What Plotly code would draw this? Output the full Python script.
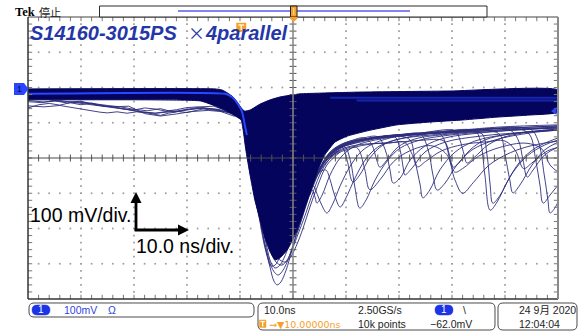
import plotly.graph_objects as go

# Screen scale: 10 ns/div over 10 divisions, 100 mV/div over 8 divisions (0 mV = centre line)
T_RANGE = [0, 100]
V_RANGE = [-400, 400]

# Envelope of the dense persistence region (all overlapping acquisitions)
mass_top_t = [0, 35.3, 36.6, 37.7, 38.7, 39.6, 40.4, 40.9, 41.9, 43.8, 45.7, 47.5, 51.3, 55.1, 62.6, 79.6, 100]
mass_top_v = [196, 196, 193, 184, 173, 156, 139, 133, 136, 153, 165, 173, 182, 184, 187, 190, 193]
mass_bot_t = [100, 94.7, 88.5, 82.1, 75.8, 69.6, 64.0, 60.2, 57.9, 56.0, 54.7, 53.4, 51.9, 50.4, 48.9,
              47.5, 46.6, 45.7, 44.7, 43.8, 42.8, 41.9, 41.1, 40.6, 40.2, 38.1, 35.3, 32.5, 23.0, 0]
mass_bot_v = [130, 122, 116, 108, 102, 94, 77, 62, 45, 9, -34, -91, -156, -218, -261,
              -284, -289, -267, -227, -176, -119, -48, 23, 79, 108, 128, 148, 162, 165, 165]

# Brightest (most frequent) waveform
bright_t = [0, 37.2, 38.5, 39.6, 40.4, 40.9, 41.3]
bright_v = [182, 182, 173, 153, 130, 94, 65]
tail_bright1_t = [57.0, 100]
tail_bright1_v = [171, 171]
tail_bright2_t = [62.0, 100]
tail_bright2_v = [163, 163]

# Single acquisitions with a lowered baseline before the trigger
pre1_t = [0, 2, 4, 6, 8, 10, 12, 14, 16, 18, 20, 22, 24, 26, 28, 30, 32, 34, 36, 38]
pre1_v = [142, 151, 155, 150, 157, 151, 156, 148, 145, 139, 136, 142, 139, 133, 137, 143, 145, 141, 137, 128]
pre2_t = [0, 3, 6, 9, 12, 13.6, 15, 16.8, 18.7, 20.5, 22.5, 24, 25, 26.5, 28, 30, 32.5, 35, 37.5]
pre2_v = [148, 145, 149, 141, 134, 130, 128, 131, 127, 131, 128, 124, 121, 127, 130, 136, 142, 138, 130]
pre3_t = [0, 2.5, 5, 7.5, 10, 12.5, 15, 17.5, 20, 22.5, 25, 27.5, 30, 32.5, 35, 37.5]
pre3_v = [160, 157, 162, 156, 159, 153, 149, 145, 138, 134, 140, 130, 137, 145, 147, 135]
pre4_t = [0, 3, 6, 9, 12, 15, 18, 21, 24, 27, 30, 33, 36, 38.5]
pre4_v = [163, 159, 163, 157, 151, 147, 139, 132, 127, 131, 138, 141, 138, 125]
pre5_t = [4, 7, 10, 13, 16, 19, 22, 25, 28, 31, 34, 37]
pre5_v = [165, 159, 161, 150, 145, 147, 126, 119, 125, 132, 135, 131]
pre6_t = [9, 12, 15, 18, 21, 24, 27, 30, 33, 36, 39]
pre6_v = [160, 154, 147, 140, 131, 127, 134, 129, 139, 134, 118]

# Larger-amplitude main pulses (outline below the dense region)
deep1_t = [40.2, 41.1, 42.3, 43.4, 44.5, 45.7, 46.4, 47.0, 47.7, 48.7, 49.8, 50.9, 52.3, 53.6, 55.1, 57.0, 59.8]
deep1_v = [130, 65, -34, -133, -233, -312, -349, -360, -352, -318, -261, -199, -133, -77, -28, 9, 34]
deep2_t = [40.6, 41.5, 42.6, 43.8, 44.9, 45.8, 46.6, 47.2, 47.9, 48.9, 50.0, 51.3, 52.8, 54.3, 56.0, 58.9]
deep2_v = [108, 23, -91, -182, -255, -304, -326, -332, -323, -295, -247, -190, -119, -57, -11, 23]
deep3_t = [41.9, 43.0, 44.2, 45.1, 45.8, 46.6, 47.4, 48.3, 49.4, 50.8, 52.3, 54.0, 55.8, 58.5]
deep3_v = [-6, -105, -190, -255, -295, -312, -306, -284, -241, -190, -128, -65, -14, 20]
deep4_t = [42.3, 43.4, 44.5, 45.7, 46.8, 47.9, 48.9, 49.8, 50.9, 52.3, 53.8, 55.5, 57.5]
deep4_v = [-28, -119, -199, -261, -295, -304, -289, -261, -218, -162, -96, -34, 9]
deep5_t = [41.5, 42.6, 43.6, 44.5, 45.3, 45.8, 46.6, 47.5, 48.7, 50.0, 51.5, 53.2, 55.1, 57.4]
deep5_v = [23, -77, -162, -241, -287, -306, -304, -281, -247, -199, -142, -82, -28, 9]
deep6_t = [42.8, 44.2, 45.3, 46.4, 47.5, 48.5, 49.4, 50.6, 51.9, 53.2, 54.7, 56.4, 58.9]
deep6_v = [-62, -162, -233, -272, -289, -295, -284, -250, -199, -139, -77, -20, 17]

# Acquisitions carrying one or two delayed secondary pulses
ap1_t = [51.3, 52.6, 53.8, 54.7, 55.5, 56.4, 57.5, 58.9, 60.8, 63.0, 65.5, 69.2, 74.0, 81.5, 89.1, 100]
ap1_v = [-182, -119, -79, -108, -136, -156, -130, -79, -23, 20, 43, 60, 71, 79, 88, 94]
ap2_t = [52.3, 53.6, 55.1, 56.2, 57.0, 57.9, 58.9, 60.0, 61.7, 63.6, 66.0, 69.2, 74.0, 81.5, 90.9, 100]
ap2_v = [-133, -77, -40, -34, -62, -108, -139, -113, -57, -6, 31, 51, 65, 77, 85, 91]
ap3_t = [53.2, 54.7, 56.4, 58.3, 59.8, 60.8, 61.7, 62.6, 63.8, 65.5, 67.9, 70.2, 74.0, 79.6, 89.1, 100]
ap3_v = [-105, -48, -6, 23, 31, -6, -85, -142, -119, -62, -6, 28, 51, 65, 77, 85]
ap4_t = [53.6, 55.5, 57.4, 59.2, 60.2, 61.3, 62.6, 64.5, 67.0, 70.2, 75.8, 85.3, 100]
ap4_v = [-77, -20, 17, 31, -6, -68, -48, 0, 37, 54, 65, 77, 88]
ap5_t = [54.2, 56.0, 58.9, 62.6, 66.0, 67.4, 68.3, 68.9, 70.2, 72.1, 74.9, 78.7, 85.3, 94.7, 100]
ap5_v = [-62, -6, 37, 54, 60, 23, -34, -71, -57, -6, 34, 57, 71, 82, 88]
ap6_t = [54.7, 57.0, 60.8, 65.5, 70.2, 72.1, 73.0, 74.0, 74.5, 75.8, 77.7, 80.6, 84.3, 90.9, 100]
ap6_v = [-40, 17, 45, 57, 62, 51, -6, -77, -113, -91, -34, 17, 48, 68, 79]
ap7_t = [55.1, 57.4, 60.8, 63.6, 64.9, 65.8, 66.4, 67.7, 69.8, 73.0, 79.6, 89.1, 100]
ap7_v = [-34, 23, 48, 57, 37, -6, -26, -6, 31, 54, 68, 79, 85]
ap8_t = [55.5, 58.9, 64.5, 72.1, 77.7, 78.9, 79.6, 80.2, 81.5, 83.4, 86.2, 90.9, 100]
ap8_v = [-20, 34, 54, 65, 68, 37, -6, -26, -11, 23, 51, 68, 82]
ap9_t = [56.0, 59.8, 66.4, 74.0, 80.6, 81.5, 82.3, 82.8, 84.3, 86.8, 90.0, 94.7, 100]
ap9_v = [0, 40, 60, 71, 77, 51, 9, -14, 3, 37, 60, 74, 82]
ap10_t = [56.0, 59.8, 66.4, 75.8, 84.3, 85.3, 86.2, 87.2, 88.5, 90.4, 92.8, 95.7, 100]
ap10_v = [-6, 37, 57, 71, 77, 51, -48, -148, -125, -68, -11, 28, 57]
ap11_t = [56.6, 60.8, 70.2, 83.4, 85.7, 86.6, 87.2, 87.7, 89.1, 91.3, 94.2, 97.5, 100]
ap11_v = [9, 43, 62, 74, 68, 9, -77, -128, -105, -45, 6, 37, 51]
ap12_t = [57.0, 62.6, 74.0, 87.2, 89.1, 90.0, 90.9, 91.5, 92.8, 95.1, 97.5, 100]
ap12_v = [14, 51, 68, 77, 65, 9, -62, -99, -77, -20, 23, 45]
ap13_t = [57.9, 64.5, 77.7, 90.9, 92.5, 93.4, 94.2, 95.3, 97.5, 100]
ap13_v = [23, 57, 71, 79, 51, -6, -54, -34, 9, 31]
ap14_t = [58.5, 66.4, 79.6, 92.8, 94.7, 95.8, 96.6, 97.2, 98.5, 100]
ap14_v = [28, 60, 74, 82, 65, -6, -77, -128, -105, -77]
ap15_t = [58.9, 68.3, 81.5, 94.7, 96.2, 97.4, 98.1, 98.5, 99.4, 100]
ap15_v = [31, 62, 74, 82, 51, -48, -119, -156, -142, -125]
ap16_t = [50.8, 51.9, 52.8, 53.6, 54.2, 54.5, 55.5, 57.0, 58.9, 61.7, 65.5, 72.1, 81.5, 100]
ap16_v = [-210, -159, -105, -91, -113, -128, -105, -48, 0, 34, 51, 65, 77, 91]
ap17_t = [55.1, 57.9, 62.6, 70.2, 74.0, 75.5, 76.4, 77.2, 78.7, 80.9, 83.8, 88.1, 94.7, 100]
ap17_v = [-28, 26, 51, 65, 68, 23, -48, -91, -71, -20, 23, 51, 71, 79]
ap18_t = [55.5, 58.9, 64.5, 69.2, 70.2, 70.8, 71.1, 72.5, 74.9, 78.7, 85.3, 94.7, 100]
ap18_v = [-14, 34, 54, 60, 23, -28, -48, -28, 17, 45, 62, 74, 79]
ap19_t = [55.5, 58.9, 62.0, 63.5, 64.5, 66.5, 69.0, 72.0, 76.0, 79.0, 80.5, 82.0, 84.0, 87.0, 91.0, 95.0, 100]
ap19_v = [-14, 20, 30, -30, -90, -60, -10, 20, 35, 10, -60, -100, -70, -20, 15, 35, 48]
ap20_t = [54.7, 57.5, 61.0, 65.0, 70.0, 74.0, 78.5, 79.5, 80.5, 82.0, 85.0, 89.0, 94.0, 97.0, 98.5, 100]
ap20_v = [-45, 5, 28, 40, 45, 50, 48, 10, -40, -30, 5, 30, 42, 25, -20, -40]
ap21_t = [56.0, 60.0, 64.0, 68.0, 71.0, 72.5, 73.5, 75.0, 78.0, 82.0, 86.0, 90.0, 92.0, 93.5, 95.0, 98.0, 100]
ap21_v = [0, 30, 40, 42, 45, 10, -25, -10, 20, 38, 45, 48, 20, -30, -15, 20, 30]

pre_traces = [(pre1_t, pre1_v), (pre2_t, pre2_v), (pre3_t, pre3_v),
              (pre4_t, pre4_v), (pre5_t, pre5_v), (pre6_t, pre6_v)]
pulse_traces = [
    (deep1_t, deep1_v), (deep2_t, deep2_v), (deep3_t, deep3_v), (deep4_t, deep4_v), (deep5_t, deep5_v),
    (deep6_t, deep6_v),
    (ap1_t, ap1_v), (ap2_t, ap2_v), (ap3_t, ap3_v), (ap4_t, ap4_v), (ap5_t, ap5_v), (ap6_t, ap6_v),
    (ap7_t, ap7_v), (ap8_t, ap8_v), (ap9_t, ap9_v), (ap10_t, ap10_v), (ap11_t, ap11_v), (ap12_t, ap12_v),
    (ap13_t, ap13_v), (ap14_t, ap14_v), (ap15_t, ap15_v), (ap16_t, ap16_v), (ap17_t, ap17_v), (ap18_t, ap18_v),
    (ap19_t, ap19_v), (ap20_t, ap20_v), (ap21_t, ap21_v),
]

# Window geometry (pixels)
W, H = 582, 332
L, R, T, B = 28, 24, 17, 33
PW, PH = W - L - R, H - T - B

NAVY = "#04045c"
THIN = "rgba(45,45,125,0.9)"
BRIGHT = "#2a46ff"
ORANGE = "#f5a02a"
SCOPE_BLUE = "#1c34e6"
TXT = "#1e1e1e"


def X(px):
    return (px - L) / PW


def Y(py):
    return (H - B - py) / PH


fig = go.Figure()

# graticule dots on the division lines
dot_t, dot_v = [], []
for i in range(1, 10):
    if i == 5:
        continue
    for k in range(1, 40):
        dot_t.append(i * 10)
        dot_v.append(-400 + 20 * k)
for j in (-3, -2, -1, 1, 2, 3):
    for k in range(1, 50):
        dot_t.append(2 * k)
        dot_v.append(100 * j)
fig.add_trace(go.Scatter(x=dot_t, y=dot_v, mode="markers",
                         marker=dict(symbol="square", size=1.7, color="#9c9c9c", line=dict(width=0)),
                         hoverinfo="skip"))

# individual acquisitions
for tt, vv in pre_traces:
    fig.add_trace(go.Scatter(x=tt, y=vv, mode="lines", line=dict(color=THIN, width=1), hoverinfo="skip"))
for tt, vv in pulse_traces:
    fig.add_trace(go.Scatter(x=tt, y=vv, mode="lines",
                             line=dict(color=THIN, width=1, shape="spline", smoothing=1.0),
                             hoverinfo="skip"))

# dense persistence region
fig.add_trace(go.Scatter(x=mass_top_t + mass_bot_t, y=mass_top_v + mass_bot_v, mode="lines",
                         fill="toself", fillcolor=NAVY,
                         line=dict(color=NAVY, width=1, shape="spline", smoothing=0.4),
                         hoverinfo="skip"))

# brightest waveform
fig.add_trace(go.Scatter(x=bright_t, y=bright_v, mode="lines",
                         line=dict(color=BRIGHT, width=2, shape="spline", smoothing=0.5),
                         hoverinfo="skip"))
for tt, vv in ((tail_bright1_t, tail_bright1_v), (tail_bright2_t, tail_bright2_v)):
    fig.add_trace(go.Scatter(x=tt, y=vv, mode="lines", line=dict(color="rgba(40,70,255,0.5)", width=2),
                             hoverinfo="skip"))

# minor ticks along the centre cross and along the frame
minor_t = [2 * k for k in range(1, 50)]
minor_v = [-400 + 20 * k for k in range(1, 40)]
fig.add_trace(go.Scatter(x=minor_t, y=[0] * len(minor_t), mode="markers",
                         marker=dict(symbol="line-ns", size=5, line=dict(width=1, color="#555555")),
                         hoverinfo="skip"))
fig.add_trace(go.Scatter(x=[50] * len(minor_v), y=minor_v, mode="markers",
                         marker=dict(symbol="line-ew", size=5, line=dict(width=1, color="#555555")),
                         hoverinfo="skip"))
fig.add_trace(go.Scatter(x=minor_t * 2, y=[400] * len(minor_t) + [-400] * len(minor_t), mode="markers",
                         marker=dict(symbol="line-ns", size=6, line=dict(width=1, color="#777777")),
                         hoverinfo="skip"))
fig.add_trace(go.Scatter(x=[0] * len(minor_v) + [100] * len(minor_v), y=minor_v * 2, mode="markers",
                         marker=dict(symbol="line-ew", size=6, line=dict(width=1, color="#777777")),
                         hoverinfo="skip"))

shapes = []


def pline(x0, y0, x1, y1, color, width):
    shapes.append(dict(type="line", xref="paper", yref="paper", x0=X(x0), y0=Y(y0), x1=X(x1), y1=Y(y1),
                       line=dict(color=color, width=width), layer="above"))


def ppath(points, fill, line_color=None, width=0, close=True):
    d = "M " + " L ".join(f"{X(px):.5f},{Y(py):.5f}" for px, py in points) + (" Z" if close else "")
    shapes.append(dict(type="path", xref="paper", yref="paper", path=d, fillcolor=fill,
                       line=dict(color=line_color or "rgba(0,0,0,0)", width=width), layer="above"))


def rrect(x0, y0, x1, y1, r, color, width=1, fill="rgba(0,0,0,0)"):
    pts = [(x0 + r, y0), (x1 - r, y0), (x1, y0), (x1, y0 + r), (x1, y1 - r), (x1, y1), (x1 - r, y1),
           (x0 + r, y1), (x0, y1), (x0, y1 - r), (x0, y0 + r), (x0, y0), (x0 + r, y0)]
    f = lambda p: f"{X(p[0]):.5f},{Y(p[1]):.5f}"
    d = (f"M {f(pts[0])} L {f(pts[1])} Q {f(pts[2])} {f(pts[3])} L {f(pts[4])} Q {f(pts[5])} {f(pts[6])} "
         f"L {f(pts[7])} Q {f(pts[8])} {f(pts[9])} L {f(pts[10])} Q {f(pts[11])} {f(pts[12])} Z")
    shapes.append(dict(type="path", xref="paper", yref="paper", path=d, fillcolor=fill,
                       line=dict(color=color, width=width), layer="above"))


# centre cross
pline(L, 158, W - R, 158, "#4a4a4a", 1)
pline(293, T, 293, H - B, "#858585", 1.5)
# frame
pline(L, T, L, H - B, "#333333", 1.5)
pline(L, T, W - R, T, "#444444", 1.2)
pline(L, H - B, W - R, H - B, "#333333", 1.5)
pline(W - R, T, W - R, H - B, "#8a8a8a", 2)

# record view bar at the top
shapes.append(dict(type="rect", xref="paper", yref="paper", x0=X(99.5), x1=X(487), y0=Y(17), y1=Y(6),
                   line=dict(color="#2a2a2a", width=1), fillcolor="white", layer="above"))
pline(178, 11, 410, 11, "#5a5af0", 1.3)
shapes.append(dict(type="rect", xref="paper", yref="paper", x0=X(290.5), x1=X(297), y0=Y(17), y1=Y(6),
                   line=dict(color="#222222", width=1), fillcolor=ORANGE, layer="above"))
pline(293.7, 8, 293.7, 15, "#ffe0a0", 1)
ppath([(290, 17), (297.5, 17), (297.5, 18.5), (293.7, 22), (290, 18.5)], ORANGE)

# trigger position marker (orange box with a T)
shapes.append(dict(type="rect", xref="paper", yref="paper", x0=X(236.5), x1=X(246), y0=Y(31.5), y1=Y(23),
                   line=dict(color=ORANGE, width=0.5), fillcolor=ORANGE, layer="above"))
pline(238.3, 25, 244.2, 25, "#fff2d0", 1.5)
pline(241.25, 25, 241.25, 30, "#fff2d0", 1.5)

# channel 1 ground marker and trigger level marker
ppath([(14, 83), (24, 83), (28.5, 89), (24, 95), (14, 95)], "#2a45ff")
ppath([(551, 111), (556.5, 107), (556.5, 115)], "#2a45ff")

# scale arrows
pline(136, 231, 136, 201, "black", 2.8)
ppath([(136, 192), (130.5, 203), (141.5, 203)], "black")
pline(134.6, 230, 180, 230, "black", 2.8)
ppath([(189, 230), (178, 224.5), (178, 235.5)], "black")

# status bar boxes
rrect(29, 303, 254, 317, 5, "#4a4a4a", 1)
rrect(258, 303, 495, 330, 5, "#4a4a4a", 1)
rrect(498, 303, 577, 330, 5, "#4a4a4a", 1)
rrect(32, 305, 50, 315, 5, SCOPE_BLUE, 0.5, SCOPE_BLUE)
rrect(435, 305, 453, 315, 5, SCOPE_BLUE, 0.5, SCOPE_BLUE)
shapes.append(dict(type="rect", xref="paper", yref="paper", x0=X(259.3), x1=X(266), y0=Y(327.5), y1=Y(320),
                   line=dict(color=ORANGE, width=0.5), fillcolor=ORANGE, layer="above"))
pline(260.4, 321.5, 264.9, 321.5, "white", 1.2)
pline(262.65, 321.5, 262.65, 326.5, "white", 1.2)

annotations = []


def label(px, py, text, size=10, color=TXT, family="Liberation Sans, Noto Sans CJK JP", anchor="left"):
    annotations.append(dict(xref="paper", yref="paper", x=X(px), y=Y(py), text=text, showarrow=False,
                            xanchor=anchor, yanchor="middle", font=dict(size=size, color=color, family=family)))


label(13, 12, "<b>Tek</b>", size=12.5, color="black", family="Liberation Serif")
label(37, 12, "停止", size=11, color="#222222", family="Noto Sans CJK JP")
label(28, 33, "<b><i>S14160-3015PS</i></b>", size=20, color="#2436a8")
label(186, 33, "×", size=17, color="#2436a8", family="Noto Sans CJK JP")
label(203, 33, "<b><i>4parallel</i></b>", size=20, color="#2436a8")
label(19.5, 89, "1", size=9, color="#0a0a50", anchor="center")

label(28, 215, "100 mV/div.", size=19.5, color="black")
label(134, 246, "10.0 ns/div.", size=19.5, color="black")

label(41, 310, "1", size=10, color="white", anchor="center")
label(62, 310, "100mV", size=10.5, color="#2f45e0")
label(106, 310, "Ω", size=10.5, color="#2f45e0")
label(262, 310, "10.0ns", size=10.5, color=TXT)
label(266.5, 324, "→▼10.00000ns", size=9.5, color=ORANGE, family="DejaVu Sans")
label(356, 310, "2.50GS/s", size=10.5, color=TXT)
label(356, 324, "10k points", size=10.5, color=TXT)
label(444, 310, "1", size=10, color="white", anchor="center")
label(461, 310, "\\", size=10.5, color=TXT)
label(428, 324, "−62.0mV", size=10.5, color=TXT)
label(517, 310, "24 9月 2020", size=10.5, color=TXT)
label(517, 324, "12:04:04", size=10.5, color=TXT)

fig.update_layout(
    width=W, height=H,
    margin=dict(l=L, r=R, t=T, b=B),
    paper_bgcolor="white", plot_bgcolor="white",
    showlegend=False,
    xaxis=dict(range=T_RANGE, visible=False, fixedrange=True),
    yaxis=dict(range=V_RANGE, visible=False, fixedrange=True),
    shapes=shapes,
    annotations=annotations,
)

fig.write_html("out.html")
